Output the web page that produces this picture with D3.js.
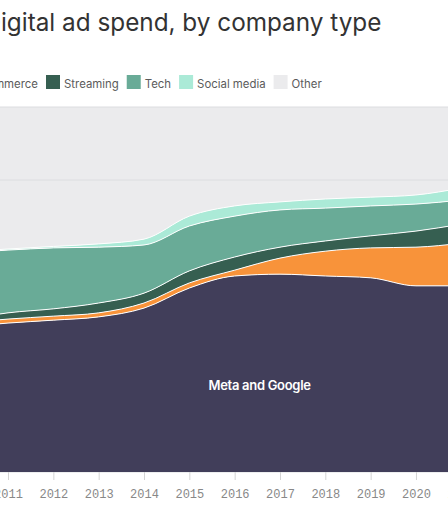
<!DOCTYPE html>
<html>
<head>
<meta charset="utf-8">
<script src="https://cdn.jsdelivr.net/npm/d3@7"></script>
<style>
  body { margin: 0; background: #fff; }
  svg { display: block; }
</style>
</head>
<body>
<div id="chart"></div>
<script>
// DATA
// ------------------------------------------------------------------

// Share of digital ad spend (%)
var years = [2010, 2011, 2012, 2013, 2014, 2015, 2016, 2017, 2018, 2019, 2020, 2021];
var metaGoogle  = [39.7, 40.8, 41.6, 42.5, 44.9, 50.4, 53.7, 54.2, 53.7, 53.2, 51.0, 51.0];
var eCommerce   = [1.1, 1.1, 1.1, 1.1, 1.4, 1.4, 1.6, 4.4, 6.8, 8.2, 10.6, 11.7];
var streaming   = [0.8, 1.7, 2.0, 2.7, 2.7, 3.3, 3.6, 3.0, 2.8, 3.3, 4.4, 5.2];
var tech        = [18.4, 17.2, 16.7, 15.3, 13.2, 12.3, 11.2, 10.2, 9.0, 8.2, 7.4, 6.6];
var socialMedia = [0.3, 0.3, 0.4, 0.9, 1.6, 2.7, 2.8, 2.2, 2.5, 2.4, 2.5, 3.3];
var other       = [39.7, 38.9, 38.2, 37.5, 36.2, 29.9, 27.1, 26.0, 25.2, 24.7, 24.1, 22.2];

var seriesNames = ["Meta and Google", "E-commerce", "Streaming", "Tech", "Social media", "Other"];
var seriesValues = [metaGoogle, eCommerce, streaming, tech, socialMedia, other];
var seriesColors = ["#413e5a", "#f8933a", "#365f51", "#69ab97", "#abead7", "#ebebed"];
var gridTicks = [0, 20, 40, 60, 80, 100];

var table = years.map(function(y, i) {
  var row = { year: y };
  seriesNames.forEach(function(name, j) { row[name] = seriesValues[j][i]; });
  return row;
});

// CANVAS
// ------------------------------------------------------------------

var width = 448,
    height = 510;

var svg = d3.select("#chart")
    .append("svg")
    .attr("width", width)
    .attr("height", height)
    .style("font-family", "Inter, 'Noto Sans', sans-serif");

// the chart is cut on both sides, so the plot runs past the window
var plotLeft = -37.3,
    plotRight = 461.3,
    plotTop = 107,
    plotBottom = 472;

var xScale = d3.scaleLinear()
    .domain([2010, 2021])
    .range([plotLeft, plotRight]);
var yScale = d3.scaleLinear()
    .domain([0, 100])
    .range([plotBottom, plotTop]);

// TITLE AND LEGEND
// ------------------------------------------------------------------

// only the part after the first letter shows in the window
var title = svg.append("text")
    .attr("y", 31)
    .attr("fill", "#333")
    .style("font-size", "24.3px")
    .text("D");
var firstLetter = title.node().getComputedTextLength();
title.attr("x", 1 - firstLetter)
    .text("Digital ad spend, by company type");

var legend = svg.append("g");
var lx = 0, shift = 0;
seriesNames.forEach(function(name, i) {
  var item = legend.append("g")
      .attr("class", "legend-item")
      .attr("transform", "translate(" + lx + ",0)");
  item.append("rect")
      .attr("x", 0)
      .attr("y", 75)
      .attr("width", 14)
      .attr("height", 14)
      .attr("fill", seriesColors[i]);
  var t = item.append("text")
      .attr("x", 18)
      .attr("y", 87.5)
      .attr("fill", "#5b5b5b")
      .style("font-size", "11.4px")
      .text(name);
  if (name == "Streaming") shift = 46 - lx;
  lx += 18 + t.node().getComputedTextLength() + 8;
  item.datum(lx);
});
legend.attr("transform", "translate(" + shift + ",0)");
// drop the items that end up wholly left of the window
legend.selectAll(".legend-item")
    .filter(function(end) { return end + shift - 8 < 0; })
    .remove();

// AREAS
// ------------------------------------------------------------------

var stacked = d3.stack().keys(seriesNames)(table);

var area = d3.area()
    .x(function(d) { return xScale(d.data.year); })
    .y0(function(d) { return yScale(d[0]); })
    .y1(function(d) { return yScale(d[1]); })
    .curve(d3.curveMonotoneX);

var topLine = d3.line()
    .x(function(d) { return xScale(d.data.year); })
    .y(function(d) { return yScale(d[1]); })
    .curve(d3.curveMonotoneX);

// "Other" sits behind the grid, the rest covers it
svg.append("path")
    .attr("d", area(stacked[5]))
    .attr("fill", seriesColors[5]);

svg.append("g")
    .selectAll("line")
    .data(gridTicks)
    .join("line")
    .attr("x1", plotLeft)
    .attr("x2", plotRight)
    .attr("y1", function(d) { return yScale(d); })
    .attr("y2", function(d) { return yScale(d); })
    .attr("stroke", "#dcdde0")
    .attr("stroke-width", 1);

stacked.slice(0, 5).forEach(function(s, i) {
  svg.append("path")
      .attr("d", area(s))
      .attr("fill", seriesColors[i]);
});
stacked.slice(0, 5).forEach(function(s) {
  svg.append("path")
      .attr("d", topLine(s))
      .attr("fill", "none")
      .attr("stroke", "#fff")
      .attr("stroke-width", 1);
});

svg.append("text")
    .attr("x", xScale(2016.55))
    .attr("y", yScale(22.5))
    .attr("text-anchor", "middle")
    .attr("fill", "#fff")
    .style("font-size", "13px")
    .style("font-weight", 600)
    .style("letter-spacing", "-0.3px")
    .text("Meta and Google");

// AXIS
// ------------------------------------------------------------------

// 2010 falls outside the window, so it gets no label
var xAxis = d3.axisBottom(xScale)
    .tickValues(years.filter(function(y) { return xScale(y) > 0; }))
    .tickFormat(d3.format("d"))
    .tickSize(8)
    .tickPadding(9);

var gx = svg.append("g")
    .attr("transform", "translate(0," + plotBottom + ")")
    .call(xAxis);
gx.select(".domain").remove();
gx.selectAll(".tick line").attr("stroke", "#d4d4d4");
gx.selectAll(".tick text")
    .attr("fill", "#888")
    .style("font-family", "'Liberation Mono', 'DejaVu Sans Mono', monospace")
    .style("font-size", "12px");
</script>
</body>
</html>
